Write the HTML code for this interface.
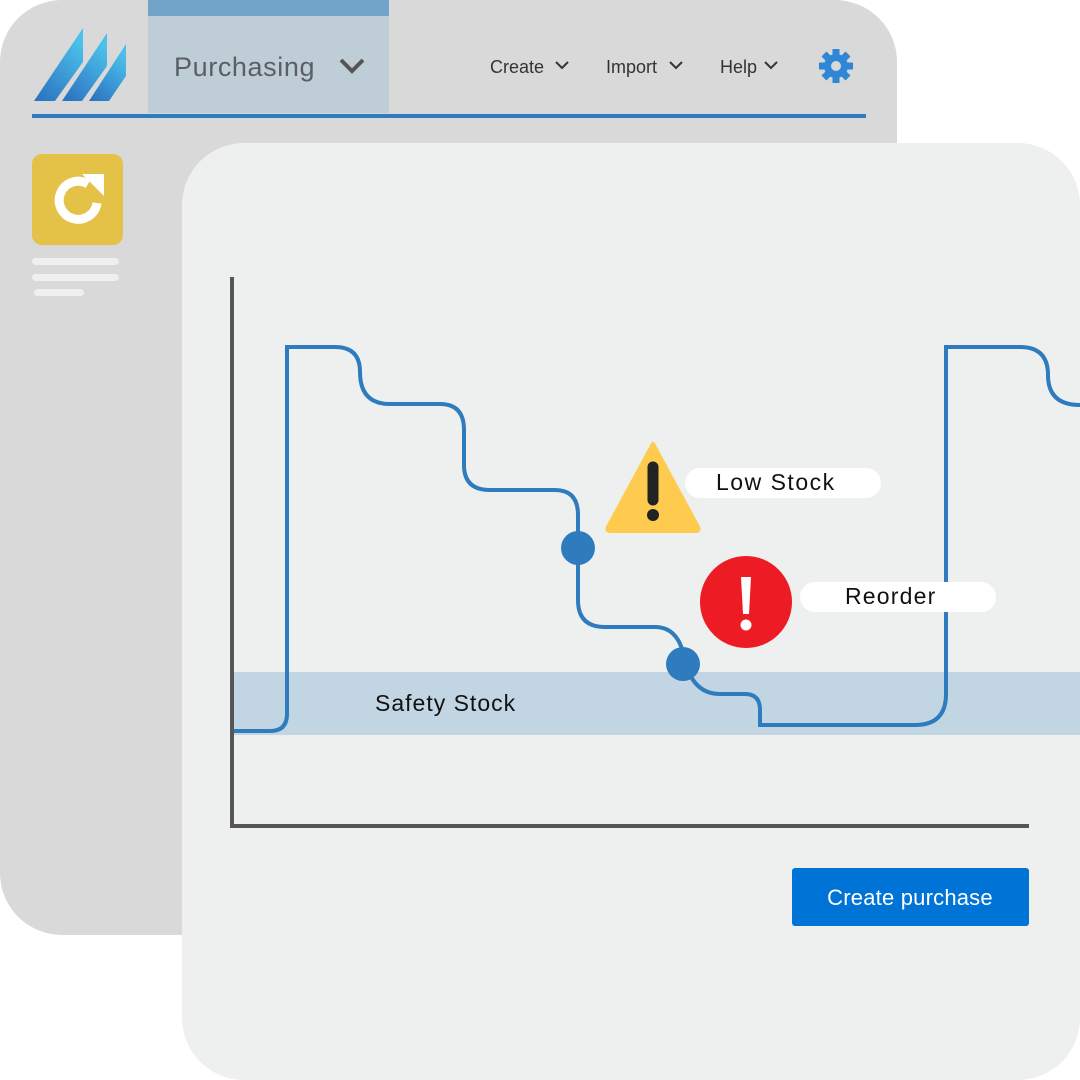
<!DOCTYPE html>
<html><head><style>
body{margin:0;width:1080px;height:1080px;background:#fff;position:relative;overflow:hidden;font-family:"Liberation Sans",sans-serif}
.abs{position:absolute}
</style></head><body>
<div class="abs" style="left:0;top:0;width:897px;height:935px;background:#d9d9d9;border-radius:62px"></div>
<div class="abs" style="left:148px;top:0;width:241px;height:113px;background:#bfcdd7"></div>
<div class="abs" style="left:148px;top:0;width:241px;height:16px;background:#72a3c8"></div>
<div class="abs" style="left:32px;top:114px;width:834px;height:4px;background:#2e7bbd"></div>
<svg class="abs" style="left:0;top:0" width="900" height="320">
<defs><linearGradient id="g" x1="0" y1="1" x2="0.6" y2="0"><stop offset="0" stop-color="#2a6fbf"/><stop offset="1" stop-color="#4cc0ea"/></linearGradient></defs>
<polygon points="34,101 55,101 83,62 83,28" fill="url(#g)"/>
<polygon points="62,101 82,101 107,66 107,33" fill="url(#g)"/>
<polygon points="89,101 109,101 126,76 126,44" fill="url(#g)"/>
<text x="174" y="76" font-size="27" fill="#5a5f66" letter-spacing="0.6">Purchasing</text>
<polyline points="341,60 352,71 363,60" fill="none" stroke="#555" stroke-width="4"/>
<text x="490" y="73" font-size="18" fill="#333">Create</text>
<polyline points="556,62 562,68 568,62" fill="none" stroke="#333" stroke-width="2"/>
<text x="606" y="73" font-size="18" fill="#333">Import</text>
<polyline points="670,62 676,68 682,62" fill="none" stroke="#333" stroke-width="2"/>
<text x="720" y="73" font-size="18" fill="#333">Help</text>
<polyline points="765,62 771,68 777,62" fill="none" stroke="#333" stroke-width="2"/>
<g transform="translate(836,66)" fill="#2e87d6">
<circle r="12"/>
<g><rect x="-3.5" y="-17" width="7" height="34"/><rect x="-17" y="-3.5" width="34" height="7"/><rect x="-3.5" y="-17" width="7" height="34" transform="rotate(45)"/><rect x="-3.5" y="-17" width="7" height="34" transform="rotate(-45)"/></g>
<circle r="5" fill="#d9d9d9"/>
</g>
<rect x="32" y="154" width="91" height="91" rx="10" fill="#e3c247"/>
<path d="M88,184 A19,19 0 1 0 97,203" fill="none" stroke="#fff" stroke-width="9"/>
<polygon points="82,174 104,174 104,196" fill="#fff"/>
<rect x="32" y="258" width="87" height="7" rx="3.5" fill="#eef0ef"/>
<rect x="32" y="274" width="87" height="7" rx="3.5" fill="#eef0ef"/>
<rect x="34" y="289" width="50" height="7" rx="3.5" fill="#eef0ef"/>
</svg>
<div class="abs" style="left:182px;top:143px;width:898px;height:937px;background:#eef0ef;border-radius:62px"></div>
<svg class="abs" style="left:0;top:0" width="1080" height="1080">
<rect x="233" y="672" width="847" height="63" fill="#c2d5e2"/>
<text x="375" y="711" font-size="23" fill="#111" letter-spacing="1">Safety Stock</text>
<path d="M233,731 H270 Q287,731 287,714 V347 H335 Q360,347 360,372 Q360,404 390,404 H440 Q464,404 464,430 V465 Q464,490 490,490 H555 Q578,490 578,515 V600 Q578,627 605,627 H655 Q676,627 683,652 Q690,694 720,694 H745 Q760,694 760,710 V725 H915 Q946,725 946,694 V347 H1020 Q1048,347 1048,375 Q1048,405 1080,405" fill="none" stroke="#2e7bbd" stroke-width="4"/>
<circle cx="578" cy="548" r="17" fill="#2e7bbd"/>
<circle cx="683" cy="664" r="17" fill="#2e7bbd"/>
<line x1="232" y1="277" x2="232" y2="828" stroke="#555" stroke-width="4"/>
<line x1="230" y1="826" x2="1029" y2="826" stroke="#555" stroke-width="4"/>
<path d="M653,444 L698,527 Q700,531 695,531 H611 Q606,531 608,527 Z" fill="#fecb4e" stroke="#fecb4e" stroke-width="4" stroke-linejoin="round"/>
<line x1="653" y1="467" x2="653" y2="500" stroke="#222" stroke-width="11" stroke-linecap="round"/>
<circle cx="653" cy="515" r="6" fill="#222"/>
<rect x="685" y="468" width="196" height="30" rx="15" fill="#fff"/>
<text x="716" y="490" font-size="23" fill="#111" letter-spacing="1.5">Low Stock</text>
<circle cx="746" cy="602" r="46" fill="#ed1c24"/>
<path d="M741,577 h10 l-2,37 h-6 Z" fill="#fff"/>
<circle cx="746" cy="625" r="5.5" fill="#fff"/>
<rect x="800" y="582" width="196" height="30" rx="15" fill="#fff"/>
<text x="845" y="604" font-size="23" fill="#111" letter-spacing="1.2">Reorder</text>
<rect x="792" y="868" width="237" height="58" rx="3" fill="#0073d6"/>
<text x="910" y="905" font-size="22" fill="#fff" text-anchor="middle" letter-spacing="0.2">Create purchase</text>
</svg>
</body></html>
